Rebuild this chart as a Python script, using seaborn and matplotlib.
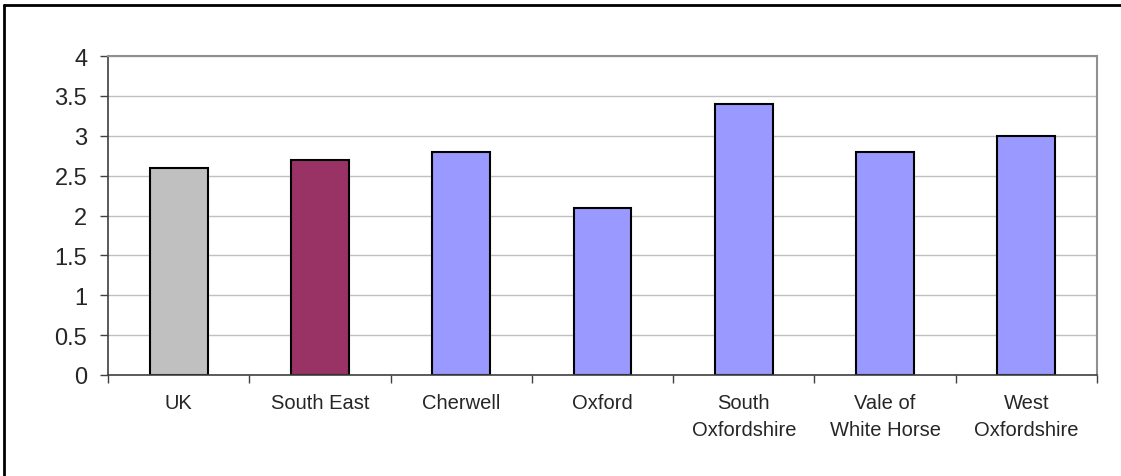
import matplotlib
matplotlib.use("Agg")
import matplotlib.pyplot as plt
import seaborn as sns
import pandas as pd
import numpy as np
from matplotlib.lines import Line2D

# Data
areas = ["UK", "South East", "Cherwell", "Oxford", "South\nOxfordshire",
         "Vale of\nWhite Horse", "West\nOxfordshire"]
values = [2.6, 2.7, 2.8, 2.1, 3.4, 2.8, 3.0]
bar_colours = ["#C0C0C0", "#993366", "#9999FF", "#9999FF", "#9999FF",
               "#9999FF", "#9999FF"]
y_ticks = [0, 0.5, 1, 1.5, 2, 2.5, 3, 3.5, 4]
y_tick_labels = ["0", "0.5", "1", "1.5", "2", "2.5", "3", "3.5", "4"]

df = pd.DataFrame({"Area": areas, "Value": values})

sns.set_style("white")
plt.rcParams["font.family"] = ["Liberation Sans", "DejaVu Sans"]

fig = plt.figure(figsize=(11.21, 4.77), dpi=100)
ax = fig.add_axes([108 / 1121, 1 - 376 / 477, (1097 - 108) / 1121, (376 - 57) / 477])

sns.barplot(data=df, x="Area", y="Value", hue="Area", palette=bar_colours,
            legend=False, width=0.41, edgecolor="black", linewidth=1.5,
            saturation=1, ax=ax)

ax.set_xlim(-0.5, len(areas) - 0.5)
ax.set_ylim(0, 4)
ax.set_yticks(y_ticks)
ax.set_yticklabels(y_tick_labels, fontsize=17)
ax.set_xticks(range(len(areas)))
ax.set_xticklabels(areas, fontsize=14.5, linespacing=1.55)
ax.set_xlabel("")
ax.set_ylabel("")

# gridlines behind bars
ax.set_axisbelow(True)
ax.yaxis.grid(True, color="#C0C0C0", linewidth=1)
ax.xaxis.grid(False)

# category boundary tick marks on x, outward ticks on y
ax.set_xticks(np.arange(-0.5, len(areas), 1), minor=True)
ax.tick_params(axis="x", which="major", length=0, pad=13)
ax.tick_params(axis="x", which="minor", length=6, width=1, color="#404040",
               direction="out", bottom=True)
ax.tick_params(axis="y", length=6, width=1, color="#404040", direction="out",
               left=True, pad=9)

for side in ["left", "bottom"]:
    ax.spines[side].set_color("#404040")
    ax.spines[side].set_linewidth(1.2)
for side in ["top", "right"]:
    ax.spines[side].set_visible(True)
    ax.spines[side].set_color("#909090")
    ax.spines[side].set_linewidth(1.5)

# outer frame (only top and left edges fall inside the image)
fig.add_artist(Line2D([4 / 1121, 1], [1 - 6 / 477, 1 - 6 / 477],
                      transform=fig.transFigure, color="black", linewidth=2))
fig.add_artist(Line2D([4 / 1121, 4 / 1121], [0, 1 - 6 / 477],
                      transform=fig.transFigure, color="black", linewidth=2))

fig.savefig("out.png", dpi=100)
plt.close(fig)
